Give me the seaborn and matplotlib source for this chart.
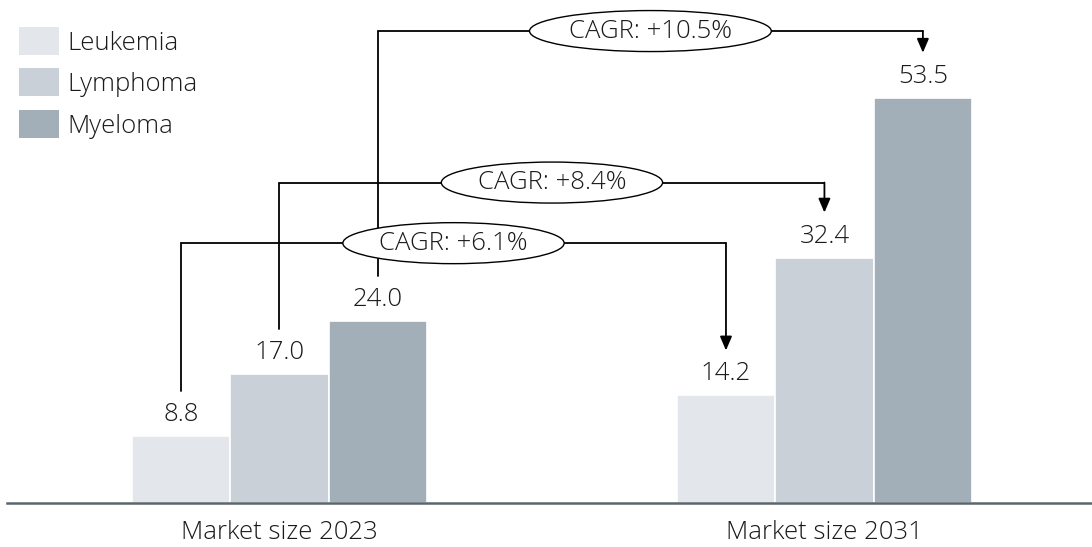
import matplotlib
matplotlib.use("Agg")
import matplotlib.pyplot as plt
from matplotlib.patches import Ellipse
import seaborn as sns
import pandas as pd

# Market size by disease (USD bn)
groups = ["Market size 2023", "Market size 2031"]
diseases = ["Leukemia", "Lymphoma", "Myeloma"]
size_2023 = [8.8, 17.0, 24.0]
size_2031 = [14.2, 32.4, 53.5]
cagr_labels = ["CAGR: +6.1%", "CAGR: +8.4%", "CAGR: +10.5%"]
colors = ["#e3e6ea", "#cad0d7", "#a2aeb8"]

df = pd.DataFrame({
    "group": [groups[0]] * 3 + [groups[1]] * 3,
    "disease": diseases * 2,
    "value": size_2023 + size_2031,
})

sns.set_theme(style="white")
plt.rcParams["font.family"] = ["Open Sans", "DejaVu Sans"]
plt.rcParams["font.weight"] = "light"

FS = 18.5
W, H, DPI = 1092, 547, 100
fig = plt.figure(figsize=(W / DPI, H / DPI), dpi=DPI)
ax = fig.add_axes([7 / W, 44 / H, 1 - 7 / W, 1 - 44 / H])

sns.barplot(data=df, x="group", y="value", hue="disease", order=groups,
            hue_order=diseases, palette=colors, width=0.542, saturation=1,
            edgecolor="white", linewidth=1.2, ax=ax, legend=True)

ymax = 66.4
ax.set_ylim(0, ymax)
ax.set_xlim(-0.5, 1.491)
px_y = (H - 44) / ymax          # pixels per y unit
px_x = 545.0                    # pixels per x unit

for s in ["top", "right", "left"]:
    ax.spines[s].set_visible(False)
ax.spines["bottom"].set_color("#5b666c")
ax.spines["bottom"].set_linewidth(1.8)
ax.set_yticks([])
ax.set_xlabel("")
ax.set_ylabel("")
ax.tick_params(axis="x", length=0, pad=12, labelsize=FS, colors="#1a1a1a")

# value labels above each bar
for cont, v23, v31 in zip(ax.containers, size_2023, size_2031):
    for bar, v in zip(cont, (v23, v31)):
        cx = bar.get_x() + bar.get_width() / 2
        ax.text(cx, v + 9 / px_y, f"{v:.1f}", ha="center", va="bottom",
                fontsize=FS, color="#1a1a1a")

# CAGR connectors from 2023 bars to 2031 bars
gap = 45 / px_y
levels = [34.3, 42.3, 62.3]
labels = []
for cont, v23, v31, lvl, lab in zip(ax.containers, size_2023, size_2031,
                                     levels, cagr_labels):
    b0, b1 = cont[0], cont[1]
    x0 = b0.get_x() + b0.get_width() / 2
    x1 = b1.get_x() + b1.get_width() / 2
    ax.plot([x0, x0, x1], [v23 + gap, lvl, lvl], color="black", lw=1.3,
            solid_joinstyle="miter", zorder=3)
    ax.annotate("", xy=(x1, v31 + gap), xytext=(x1, lvl),
                arrowprops=dict(arrowstyle="-|>,head_length=0.7,head_width=0.3",
                                color="black", lw=1.3, shrinkA=0, shrinkB=0),
                zorder=3)
    t = ax.text((x0 + x1) / 2, lvl, lab, ha="center", va="center", fontsize=FS,
                color="#1a1a1a", zorder=5)
    labels.append(t)

# oval frames sized around each CAGR label
fig.canvas.draw()
renderer = fig.canvas.get_renderer()
for t in labels:
    tw = t.get_window_extent(renderer).width
    xm, ym = t.get_position()
    ax.add_patch(Ellipse((xm, ym), width=(tw + 8) * 1.414 / px_x,
                         height=41 / px_y, fc="white", ec="black", lw=1.0,
                         zorder=4))

leg = ax.legend(loc="upper left", bbox_to_anchor=(19 / W, 1 - 27 / H),
                bbox_transform=fig.transFigure, frameon=False, fontsize=FS,
                handlelength=1.55, handleheight=1.3, handletextpad=0.35,
                labelspacing=0.5, borderpad=0, borderaxespad=0)
for t in leg.get_texts():
    t.set_color("#1a1a1a")
for h in leg.legend_handles:
    h.set_edgecolor("none")

fig.savefig("out.png", dpi=DPI)
